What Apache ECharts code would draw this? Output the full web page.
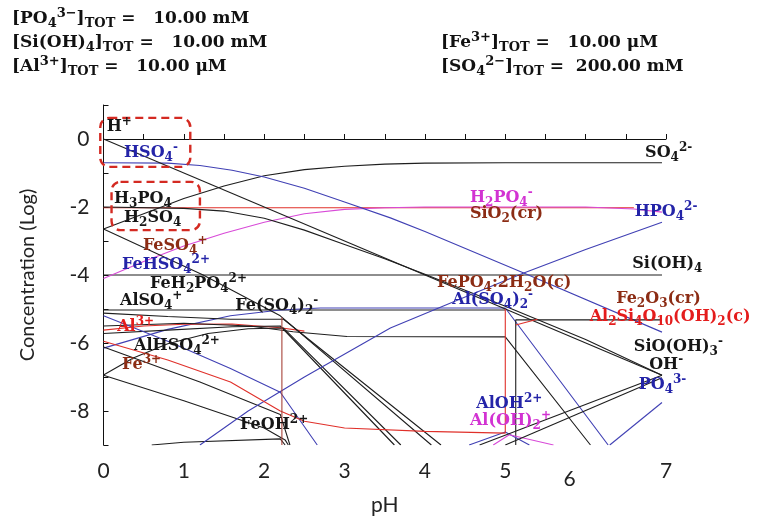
<!DOCTYPE html>
<html><head><meta charset="utf-8">
<script src="https://cdn.jsdelivr.net/npm/echarts/dist/echarts.min.js"></script>
<style>html,body{margin:0;padding:0;background:#fff}#c{width:761px;height:521px}</style>
</head><body><div id="c"></div>
<script>
// ---------- data (pH, log concentration) ----------
const xTickLabels = [0,1,2,3,4,5,6,7];
const yTickLabels = [0,-2,-4,-6,-8];

// black species
const H_plus   = [[0,0],[6.95,-6.95]];
const H3PO4    = [[0,-2.0],[1,-2.04],[1.5,-2.12],[2,-2.33],[2.5,-2.68],[3,-3.1],[3.5,-3.52],[4,-3.98],[5,-4.92],[6,-5.9],[6.95,-6.95]];
const SO4      = [[0,-2.65],[0.5,-2.2],[1,-1.75],[1.5,-1.38],[2,-1.08],[2.5,-0.9],[3,-0.8],[3.5,-0.74],[4,-0.71],[5,-0.7],[6.95,-0.7]];
const SiOH4    = [[0,-4.0],[6.95,-4.0]];
const OH_minus = [[5.0,-9],[6.95,-7.02]];
const SiOOH3   = [[4.68,-9],[6.95,-6.95]];
const FePO4_c  = [[0,-5.03],[5.0,-5.03]];
const H2SO4    = [[0,-2.65],[1.24,-4.0],[2.2,-5.2],[4.08,-9]];
const FeSO42   = [[0,-5.12],[0.8,-5.22],[1.58,-5.3],[2.24,-5.3],[4.2,-9]];
const AlHSO4   = [[0,-5.72],[0.8,-5.62],[1.6,-5.52],[2.2,-5.5],[3.62,-9]];
const FeSO4p   = [[0,-6.94],[0.37,-6.44],[0.8,-6.02],[1.3,-5.72],[1.8,-5.58],[2.24,-5.56],[3.7,-9]];
const AlSO4p   = [[0,-5.5],[1,-5.42],[1.82,-5.5],[2.36,-5.67],[3.03,-5.81],[5.0,-5.82],[6.06,-9]];
const FeOH2a   = [[0,-6.12],[1.2,-7.15],[2.2,-8.1],[2.32,-9]];
const FeH2PO4  = [[0,-6.95],[1,-7.7],[2,-8.5],[2.26,-8.85],[2.3,-9]];
const FeOH2b   = [[0.6,-9],[1.0,-8.92],[2.2,-8.82],[2.26,-9]];
const Fe2O3    = [[5.13,-9],[5.13,-5.32],[6.95,-5.32]];
// blue species
const HSO4     = [[0,-0.7],[0.8,-0.71],[1.2,-0.78],[1.6,-0.92],[2,-1.12],[2.5,-1.45],[3,-1.85],[3.57,-2.32],[4,-2.72],[5.23,-3.94],[6.95,-5.68]];
const HPO4     = [[1.2,-9],[1.8,-8.0],[2.5,-7.0],[3.57,-5.56],[4.56,-4.59],[5.23,-3.94],[6,-3.25],[6.95,-2.45]];
const PO4      = [[6.3,-9],[6.95,-7.75]];
const FeHSO4   = [[0,-5.2],[0.8,-5.95],[1.58,-6.75],[2.2,-7.45],[2.66,-9]];
const AlSO42   = [[0,-6.15],[0.8,-5.6],[1.58,-5.2],[2.2,-5.03],[2.7,-4.97],[5.0,-4.97],[6.28,-9]];
const AlOH     = [[4.55,-9],[5.0,-8.62],[5.3,-9]];
// magenta species
const H2PO4    = [[0,-4.1],[0.5,-3.6],[1,-3.15],[1.5,-2.77],[2,-2.45],[2.5,-2.2],[3,-2.07],[3.5,-2.02],[4,-2.0],[6,-2.0],[6.6,-2.06],[6.95,-2.15]];
const AlOH2    = [[4.85,-9],[5.05,-8.7],[5.6,-9]];
// red / brown species
const SiO2_cr  = [[0,-2.02],[6.6,-2.02]];
const Al3      = [[0,-5.62],[0.5,-5.5],[1,-5.45],[1.6,-5.44],[2.2,-5.55],[2.5,-5.65]];
const Fe3      = [[0,-5.95],[0.8,-6.5],[1.58,-7.15],[2.2,-8.0],[2.5,-8.3],[3,-8.5],[4,-8.6],[5.0,-8.65],[5.0,-5.0]];
const AlSi_c   = [[5.13,-5.47],[5.4,-5.3]];
const FePO4_edge = [[2.22,-5.25],[2.22,-9]];

// annotation boxes (data coordinates: pH range, log range)
const boxes = [[-0.04,1.08,0.62,-0.82],[0.1,1.2,-1.26,-2.68]];

// ---------- styles ----------
const BLK='#1e1e1e', BLU='#4040b4', MAG='#d84ad8', RED='#e0302a', BRN='#a8443a';
const LBLK='#161616', LBLU='#2424a8', LMAG='#d232d2', LBRN='#8c2c14', LRED='#e41c1c';

const lines = [
  [SiO2_cr,RED],[SiOH4,BLK],[FePO4_c,BLK],[AlSO42,BLU],[Al3,RED],
  [H2PO4,MAG],[SO4,BLK],[HSO4,BLU],[H_plus,BLK],[H3PO4,BLK],
  [H2SO4,BLK],[FeSO42,BLK],[AlHSO4,BLK],[FeSO4p,BLK],[AlSO4p,BLK],
  [FeOH2a,BLK],[FeH2PO4,BLK],[FeOH2b,BLK],[Fe2O3,BLK],
  [HPO4,BLU],[PO4,BLU],[FeHSO4,BLU],[AlOH,BLU],[AlOH2,MAG],
  [Fe3,RED],[AlSi_c,RED],[FePO4_edge,BRN],[OH_minus,BLK],[SiOOH3,BLK]
];

// species labels: markup  _sub_  ^sup^ ; anchored at data coords (left, middle)
const speciesLabels = [
  ['H^+^',0.04,0.35,LBLK],
  ['HSO_4_^-^',0.255,-0.41,LBLU],
  ['H_3_PO_4_',0.13,-1.76,LBLK],
  ['H_2_SO_4_',0.255,-2.32,LBLK],
  ['FeSO_4_^+^',0.49,-3.15,LBRN],
  ['FeHSO_4_^2+^',0.23,-3.71,LBLU],
  ['FeH_2_PO_4_^2+^',0.58,-4.26,LBLK],
  ['AlSO_4_^+^',0.205,-4.76,LBLK],
  ['Fe(SO_4_)_2_^-^',1.64,-4.91,LBLK],
  ['Al^3+^',0.17,-5.53,LRED],
  ['AlHSO_4_^2+^',0.38,-6.09,LBLK],
  ['Fe^3+^',0.23,-6.65,LBRN],
  ['FeOH^2+^',1.70,-8.41,LBLK],
  ['SO_4_^2-^',6.74,-0.41,LBLK],
  ['H_2_PO_4_^-^',4.56,-1.74,LMAG],
  ['SiO_2_(cr)',4.56,-2.21,LBRN],
  ['HPO_4_^2-^',6.61,-2.15,LBLU],
  ['Si(OH)_4_',6.58,-3.68,LBLK],
  ['FePO_4_:2H_2_O(c)',4.15,-4.24,LBRN],
  ['Al(SO_4_)_2_^-^',4.34,-4.74,LBLU],
  ['Fe_2_O_3_(cr)',6.38,-4.71,LBRN],
  ['Al_2_Si_4_O_10_(OH)_2_(c)',6.05,-5.24,LRED],
  ['SiO(OH)_3_^-^',6.6,-6.12,LBLK],
  ['OH^-^',6.79,-6.65,LBLK],
  ['PO_4_^3-^',6.66,-7.24,LBLU],
  ['AlOH^2+^',4.64,-7.79,LBLU],
  ['Al(OH)_2_^+^',4.56,-8.29,LMAG]
];

const headers = [
  ['[PO_4_^3−^]_TOT_ =   10.00 mM',12,19],
  ['[Si(OH)_4_]_TOT_ =   10.00 mM',12,43],
  ['[Al^3+^]_TOT_ =   10.00 μM',12,67],
  ['[Fe^3+^]_TOT_ =   10.00 μM',441,43],
  ['[SO_4_^2−^]_TOT_ =  200.00 mM',441,67]
];

function toRich(s){
  let out='', mode='n', buf='';
  const flush=()=>{ if(buf){ out+='{'+mode+'|'+buf+'}'; buf=''; } };
  for(const ch of s){
    if(ch==='_'){ flush(); mode = mode==='b'?'n':'b'; }
    else if(ch==='^'){ flush(); mode = mode==='p'?'n':'p'; }
    else buf+=ch;
  }
  flush();
  return out;
}
function richStyles(color,F,fam,weight,ratio){
  const base={fontFamily:fam,fontWeight:weight,color:color};
  const s=Math.round(F*ratio);
  return {
    n:Object.assign({},base,{fontSize:F,lineHeight:F+6,verticalAlign:'middle'}),
    b:Object.assign({},base,{fontSize:s,lineHeight:s+1,verticalAlign:'bottom'}),
    p:Object.assign({},base,{fontSize:s,lineHeight:s+1,verticalAlign:'top'})
  };
}

const chart = echarts.init(document.getElementById('c'),null,{renderer:'canvas'});
const AXF = 'Lato, "Open Sans", sans-serif';
chart.setOption({
  animation:false,
  backgroundColor:'#fff',
  grid:{left:103.5,right:95,top:105,bottom:76},
  xAxis:{type:'value',min:0,max:7,interval:0.5,
    name:'pH',nameLocation:'middle',nameGap:47,
    nameTextStyle:{fontFamily:AXF,fontSize:21,color:'#222'},
    axisLine:{lineStyle:{color:'#111',width:1}},
    axisTick:{inside:true,length:5,lineStyle:{color:'#111'}},
    splitLine:{show:false},
    axisLabel:{margin:16,fontFamily:AXF,fontSize:21,color:'#222',
      formatter:v=>{ if(!xTickLabels.includes(v)) return ''; return v===6?'{s6|6}':String(v); },
      rich:{s6:{fontFamily:AXF,fontSize:21,color:'#222',padding:[8,32,0,0]}}}
  },
  yAxis:{type:'value',min:-9,max:1,interval:1,
    name:'Concentration (Log)',nameLocation:'middle',nameGap:66,nameRotate:90,
    nameTextStyle:{fontFamily:AXF,fontSize:20,color:'#222'},
    axisLine:{show:true,lineStyle:{color:'#111',width:1}},
    axisTick:{show:true,inside:true,length:5,lineStyle:{color:'#111'}},
    splitLine:{show:false},
    axisLabel:{margin:14,fontFamily:AXF,fontSize:21,color:'#222',
      formatter:v=> yTickLabels.includes(v)?String(v):''}
  },
  series: lines.map(([d,c])=>({type:'line',data:d,showSymbol:false,symbol:'none',
    lineStyle:{color:c,width:1.1},silent:true,clip:true}))
});

const g=[];
boxes.forEach(([x0,x1,y0,y1])=>{
  const p0=chart.convertToPixel({gridIndex:0},[x0,y0]);
  const p1=chart.convertToPixel({gridIndex:0},[x1,y1]);
  g.push({type:'rect',shape:{x:p0[0],y:p0[1],width:p1[0]-p0[0],height:p1[1]-p0[1],r:9},
    style:{fill:'none',stroke:'#d42a22',lineWidth:2.4,lineDash:[8,5]},z:50});
});
const LABF='"DejaVu Serif", serif';
speciesLabels.forEach(([t,x,y,c])=>{
  const p=chart.convertToPixel({gridIndex:0},[x,y]);
  g.push({type:'text',x:p[0],y:p[1],z:60,
    style:{text:toRich(t),rich:richStyles(c,16,LABF,'bold',0.78),fill:c,align:'left',verticalAlign:'middle'}});
});
headers.forEach(([t,x,y])=>{
  g.push({type:'text',x:x,y:y,z:60,
    style:{text:toRich(t),rich:richStyles('#111',17,LABF,'bold',0.75),fill:'#111',align:'left',verticalAlign:'middle'}});
});
chart.setOption({graphic:g});
</script>
</body></html>
